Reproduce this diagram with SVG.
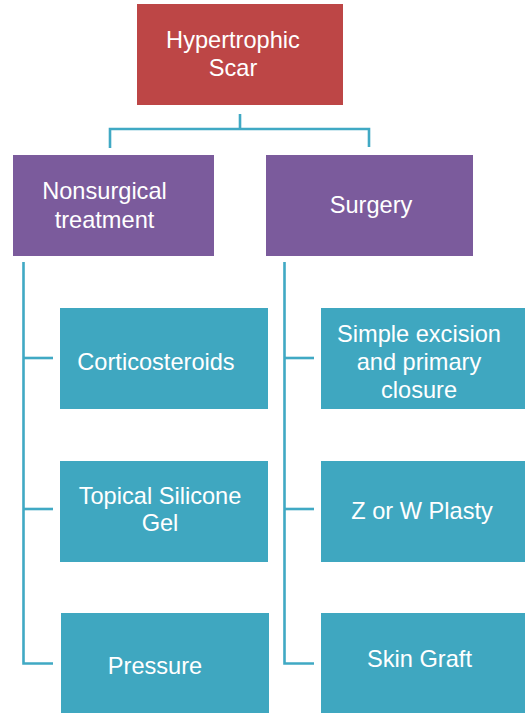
<svg xmlns="http://www.w3.org/2000/svg" width="525" height="713" viewBox="0 0 525 713">
  <style>
    .root { fill: #BD4646; }
    .branch { fill: #7B5B9C; }
    .leaf { fill: #3FA7C0; }
    .lbl { font-family: "Liberation Sans", Arial, Helvetica, sans-serif; font-size: 23.6px; fill: #FFFFFF; text-anchor: middle; }
    .conn { fill: none; stroke: #40A9C4; stroke-width: 2.6; stroke-linecap: butt; stroke-linejoin: miter; }
  </style>
  <rect width="525" height="713" fill="#FFFFFF"/>

  <!-- connectors -->
  <g id="connectors" class="conn">
    <path d="M240,114 V129"/>
    <path d="M110,148 V129 H369 V147"/>
    <path d="M23.5,262 V663.5 H53"/>
    <path d="M23.5,358 H53"/>
    <path d="M23.5,509 H53"/>
    <path d="M284.5,262 V663.5 H314"/>
    <path d="M284.5,358 H314"/>
    <path d="M284.5,509 H314"/>
  </g>

  <!-- top level -->
  <g id="node-hypertrophic-scar">
    <rect class="root" x="137" y="4" width="206" height="101"/>
    <text class="lbl" x="233" y="48">Hypertrophic</text>
    <text class="lbl" x="233" y="76">Scar</text>
  </g>

  <!-- second level -->
  <g id="node-nonsurgical">
    <rect class="branch" x="13" y="155" width="201" height="101"/>
    <text class="lbl" x="104.5" y="199">Nonsurgical</text>
    <text class="lbl" x="104.5" y="227.5">treatment</text>
  </g>
  <g id="node-surgery">
    <rect class="branch" x="266" y="155" width="207" height="101"/>
    <text class="lbl" x="371" y="213">Surgery</text>
  </g>

  <!-- nonsurgical options -->
  <g id="node-corticosteroids">
    <rect class="leaf" x="60" y="308" width="208" height="101"/>
    <text class="lbl" x="156" y="370">Corticosteroids</text>
  </g>
  <g id="node-silicone-gel">
    <rect class="leaf" x="60" y="461" width="208" height="101"/>
    <text class="lbl" x="160" y="504">Topical Silicone</text>
    <text class="lbl" x="160" y="531">Gel</text>
  </g>
  <g id="node-pressure">
    <rect class="leaf" x="61" y="613" width="208" height="100"/>
    <text class="lbl" x="155" y="674">Pressure</text>
  </g>

  <!-- surgical options -->
  <g id="node-excision">
    <rect class="leaf" x="321" y="308" width="204" height="101"/>
    <text class="lbl" x="419" y="342">Simple excision</text>
    <text class="lbl" x="419" y="370">and primary</text>
    <text class="lbl" x="419" y="398">closure</text>
  </g>
  <g id="node-plasty">
    <rect class="leaf" x="321" y="461" width="204" height="101"/>
    <text class="lbl" x="422" y="519">Z or W Plasty</text>
  </g>
  <g id="node-skin-graft">
    <rect class="leaf" x="321" y="613" width="204" height="100"/>
    <text class="lbl" x="419.5" y="667">Skin Graft</text>
  </g>
</svg>
